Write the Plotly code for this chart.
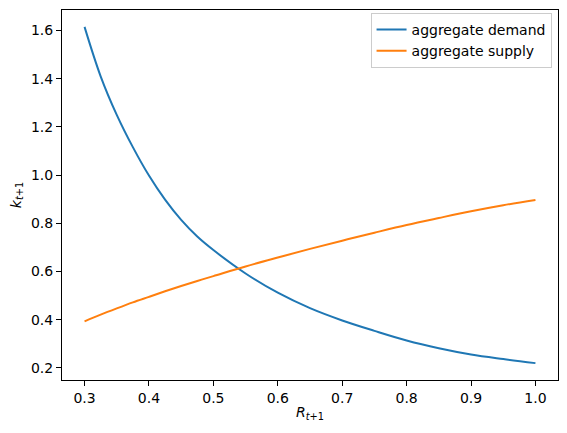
import plotly.graph_objects as go

R_values = [0.300, 0.325, 0.350, 0.375, 0.400, 0.425, 0.450, 0.475, 0.500, 0.550, 0.600, 0.650,
            0.700, 0.750, 0.800, 0.850, 0.900, 0.950, 1.000]
demand = [1.615, 1.410, 1.250, 1.116, 0.998, 0.898, 0.814, 0.745, 0.689, 0.592, 0.512, 0.448,
          0.397, 0.354, 0.314, 0.282, 0.256, 0.237, 0.220]
supply = [0.393, 0.421, 0.447, 0.472, 0.495, 0.518, 0.540, 0.561, 0.581, 0.621, 0.658, 0.694,
          0.728, 0.761, 0.793, 0.822, 0.850, 0.875, 0.897]
series_names = ["aggregate demand", "aggregate supply"]
x_ticks = [0.3, 0.4, 0.5, 0.6, 0.7, 0.8, 0.9, 1.0]
y_ticks = [0.2, 0.4, 0.6, 0.8, 1.0, 1.2, 1.4, 1.6]

FONT = "DejaVu Sans"
FS = 14

fig = go.Figure()
fig.add_trace(go.Scatter(x=R_values, y=demand, mode="lines", name=series_names[0],
                         line=dict(color="#1f77b4", width=2, shape="spline", smoothing=1.0)))
fig.add_trace(go.Scatter(x=R_values, y=supply, mode="lines", name=series_names[1],
                         line=dict(color="#ff7f0e", width=2, shape="spline", smoothing=1.0)))

axis_common = dict(showline=True, linecolor="black", linewidth=1, mirror=True,
                   ticks="outside", ticklen=5, tickwidth=1, tickcolor="black",
                   showgrid=False, zeroline=False,
                   tickfont=dict(family=FONT, size=FS, color="black"))

fig.update_layout(
    width=567, height=433,
    margin=dict(l=62, r=9, t=10, b=53),
    paper_bgcolor="white", plot_bgcolor="white",
    font=dict(family=FONT, size=FS, color="black"),
    xaxis=dict(range=[0.265, 1.035], tickvals=x_ticks, tickformat=".1f",
               title=dict(text="<i>R</i><sub><i>t</i>+1</sub>", standoff=2,
                          font=dict(family=FONT, size=FS)),
               **axis_common),
    yaxis=dict(range=[0.15, 1.685], tickvals=y_ticks, tickformat=".1f",
               title=dict(text="<i>k</i><sub><i>t</i>+1</sub>", standoff=6,
                          font=dict(family=FONT, size=FS)),
               **axis_common),
    legend=dict(x=0.987, y=0.992, xanchor="right", yanchor="top",
                bgcolor="rgba(255,255,255,0.8)", bordercolor="#cccccc", borderwidth=1,
                font=dict(family=FONT, size=FS), tracegroupgap=0, itemwidth=30),
    showlegend=True,
)

fig.write_html("out.html", config={"displayModeBar": False},
               post_script="document.body.style.margin='0';document.body.style.padding='0';")
